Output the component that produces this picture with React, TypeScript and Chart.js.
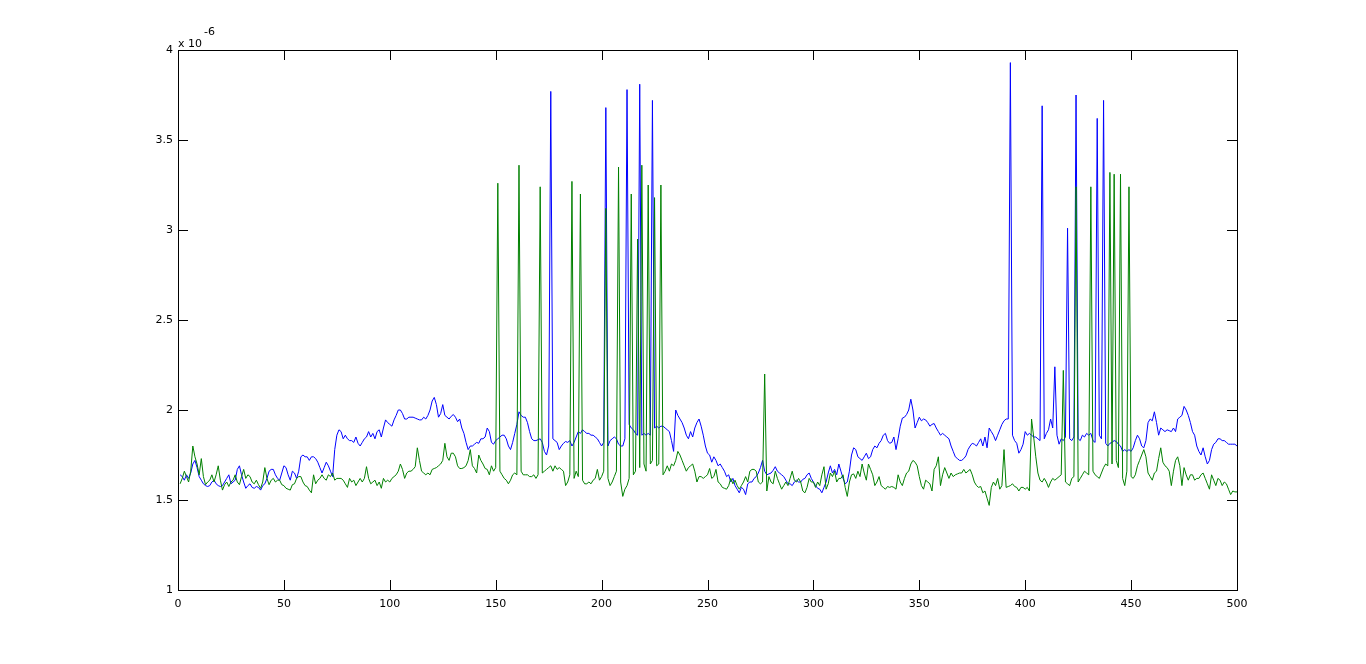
import React, { useEffect, useRef } from "react";
import { Chart, registerables } from "chart.js";

Chart.register(...registerables);

// Values are in units of 1e-6 (axis shows "x 10^-6")
const xStart = 1;

const blueSeries: number[] = [
  1.64,1.63,1.61,1.64,1.62,1.65,1.70,1.72,1.68,1.63,
  1.61,1.59,1.58,1.575,1.58,1.60,1.61,1.59,1.58,1.575,
  1.58,1.60,1.62,1.64,1.59,1.60,1.61,1.67,1.69,1.64,
  1.60,1.565,1.58,1.59,1.57,1.565,1.575,1.57,1.555,1.58,
  1.59,1.62,1.66,1.67,1.67,1.64,1.62,1.61,1.65,1.69,
  1.68,1.64,1.61,1.66,1.65,1.62,1.66,1.74,1.75,1.74,
  1.74,1.72,1.74,1.74,1.73,1.71,1.68,1.65,1.68,1.71,
  1.69,1.66,1.63,1.78,1.86,1.89,1.88,1.84,1.86,1.84,
  1.83,1.83,1.82,1.85,1.815,1.80,1.82,1.84,1.85,1.88,
  1.85,1.87,1.84,1.88,1.89,1.85,1.90,1.945,1.93,1.92,
  1.91,1.945,1.97,2.00,2.00,1.98,1.95,1.95,1.96,1.96,
  1.96,1.955,1.95,1.945,1.945,1.96,1.95,1.97,2.00,2.05,
  2.07,2.03,1.96,1.98,2.03,1.97,1.96,1.95,1.965,1.975,
  1.96,1.935,1.95,1.90,1.87,1.82,1.78,1.80,1.80,1.81,
  1.82,1.815,1.84,1.84,1.85,1.90,1.88,1.82,1.81,1.83,
  1.84,1.85,1.86,1.86,1.84,1.80,1.78,1.82,1.87,1.92,
  1.99,1.97,1.96,1.96,1.93,1.88,1.84,1.83,1.83,1.835,
  1.84,1.82,1.77,1.75,1.80,3.77,1.84,1.83,1.82,1.78,
  1.80,1.815,1.825,1.82,1.83,1.80,1.82,1.85,1.88,1.87,
  1.89,1.88,1.87,1.87,1.86,1.86,1.85,1.84,1.82,1.80,
  1.82,3.68,1.80,1.83,1.84,1.85,1.84,1.81,1.80,1.80,
  1.84,3.78,1.92,1.90,1.89,1.87,1.86,3.81,1.86,1.87,
  1.86,1.87,1.86,3.72,1.90,1.91,1.90,1.91,1.91,1.90,
  1.89,1.88,1.83,1.77,2.00,1.97,1.95,1.93,1.90,1.86,
  1.84,1.88,1.85,1.90,1.93,1.95,1.91,1.86,1.80,1.76,
  1.75,1.71,1.74,1.72,1.69,1.70,1.68,1.66,1.63,1.64,
  1.60,1.62,1.58,1.56,1.54,1.57,1.56,1.53,1.59,1.60,
  1.60,1.62,1.63,1.65,1.68,1.72,1.66,1.64,1.645,1.65,
  1.665,1.685,1.66,1.65,1.64,1.63,1.61,1.59,1.59,1.58,
  1.60,1.61,1.60,1.60,1.615,1.62,1.64,1.65,1.62,1.60,
  1.58,1.565,1.56,1.54,1.57,1.60,1.65,1.69,1.65,1.67,
  1.64,1.70,1.66,1.62,1.59,1.60,1.66,1.75,1.79,1.78,
  1.74,1.73,1.72,1.74,1.76,1.73,1.74,1.78,1.80,1.79,
  1.815,1.83,1.86,1.87,1.83,1.815,1.82,1.85,1.78,1.84,
  1.91,1.955,1.96,1.975,2.00,2.06,2.00,1.90,1.93,1.96,
  1.94,1.95,1.945,1.93,1.91,1.92,1.925,1.90,1.88,1.86,
  1.87,1.86,1.85,1.84,1.80,1.77,1.74,1.73,1.72,1.72,
  1.73,1.745,1.78,1.80,1.815,1.81,1.80,1.82,1.84,1.80,
  1.85,1.79,1.90,1.88,1.86,1.83,1.86,1.89,1.92,1.94,
  1.95,1.95,3.93,1.86,1.83,1.815,1.76,1.78,1.81,1.88,
  1.86,1.87,1.86,1.85,1.85,1.84,1.83,3.69,1.84,1.87,
  1.89,1.95,1.90,2.24,1.86,1.81,1.84,1.83,1.85,3.01,
  1.84,1.83,1.85,3.75,1.84,1.83,1.86,1.85,1.87,1.86,
  1.87,1.83,1.82,3.62,1.86,1.84,3.72,1.815,1.80,1.815,
  1.82,1.83,1.825,1.81,1.80,1.77,1.78,1.77,1.78,1.77,
  1.79,1.83,1.86,1.84,1.80,1.79,1.83,1.93,1.95,1.94,
  1.99,1.93,1.86,1.90,1.89,1.88,1.89,1.885,1.88,1.90,
  1.88,1.95,1.96,1.97,2.02,2.00,1.97,1.93,1.88,1.86,
  1.80,1.77,1.75,1.79,1.74,1.70,1.72,1.78,1.81,1.82,
  1.84,1.84,1.83,1.83,1.82,1.81,1.81,1.81,1.81,1.80,
];

const greenSeries: number[] = [
  1.59,1.62,1.66,1.63,1.60,1.66,1.80,1.74,1.70,1.64,
  1.73,1.63,1.585,1.60,1.61,1.64,1.60,1.64,1.69,1.61,
  1.555,1.585,1.60,1.575,1.60,1.61,1.64,1.60,1.585,1.63,
  1.67,1.62,1.64,1.63,1.60,1.59,1.61,1.585,1.565,1.60,
  1.68,1.62,1.585,1.61,1.62,1.60,1.61,1.61,1.585,1.58,
  1.565,1.56,1.555,1.585,1.59,1.62,1.63,1.63,1.60,1.58,
  1.575,1.555,1.54,1.64,1.59,1.61,1.62,1.64,1.62,1.61,
  1.64,1.63,1.65,1.61,1.62,1.62,1.62,1.61,1.59,1.57,
  1.62,1.60,1.61,1.58,1.60,1.62,1.60,1.62,1.685,1.62,
  1.59,1.60,1.61,1.58,1.60,1.565,1.62,1.60,1.61,1.60,
  1.62,1.63,1.64,1.66,1.70,1.67,1.62,1.65,1.66,1.66,
  1.67,1.685,1.79,1.72,1.66,1.65,1.64,1.65,1.64,1.67,
  1.675,1.68,1.69,1.70,1.72,1.815,1.74,1.72,1.76,1.76,
  1.74,1.69,1.675,1.675,1.68,1.69,1.72,1.78,1.69,1.675,
  1.65,1.75,1.72,1.70,1.675,1.67,1.64,1.69,1.66,1.68,
  3.26,1.66,1.64,1.62,1.61,1.59,1.61,1.64,1.65,1.64,
  3.36,1.66,1.64,1.64,1.64,1.63,1.63,1.64,1.62,1.64,
  3.24,1.65,1.66,1.67,1.68,1.69,1.66,1.69,1.67,1.68,
  1.67,1.66,1.58,1.60,1.64,3.27,1.62,1.66,1.63,3.20,
  1.61,1.59,1.59,1.60,1.59,1.61,1.62,1.67,1.61,1.63,
  1.66,3.12,1.62,1.58,1.60,1.63,1.66,3.35,1.60,1.52,
  1.56,1.58,1.62,3.20,1.64,1.66,2.95,1.68,3.36,1.70,
  1.66,3.25,1.70,1.72,3.18,1.69,1.70,3.25,1.64,1.66,
  1.69,1.66,1.70,1.69,1.72,1.77,1.75,1.72,1.69,1.66,
  1.68,1.69,1.70,1.66,1.60,1.63,1.63,1.62,1.63,1.64,
  1.675,1.62,1.63,1.67,1.60,1.59,1.57,1.565,1.56,1.58,
  1.62,1.59,1.61,1.58,1.56,1.58,1.60,1.63,1.60,1.66,
  1.67,1.67,1.66,1.60,1.59,1.60,2.20,1.55,1.63,1.60,
  1.59,1.66,1.62,1.59,1.56,1.58,1.60,1.58,1.62,1.66,
  1.61,1.60,1.62,1.60,1.55,1.54,1.57,1.62,1.60,1.60,
  1.57,1.60,1.58,1.64,1.685,1.56,1.59,1.65,1.63,1.66,
  1.60,1.62,1.62,1.64,1.57,1.52,1.60,1.64,1.645,1.62,
  1.66,1.63,1.70,1.65,1.61,1.70,1.67,1.64,1.58,1.60,
  1.63,1.58,1.57,1.56,1.575,1.57,1.575,1.57,1.56,1.64,
  1.60,1.58,1.62,1.65,1.66,1.70,1.72,1.71,1.69,1.63,
  1.58,1.56,1.61,1.60,1.59,1.55,1.67,1.69,1.74,1.58,
  1.64,1.68,1.65,1.62,1.65,1.63,1.64,1.645,1.65,1.65,
  1.67,1.65,1.66,1.67,1.64,1.60,1.58,1.57,1.575,1.54,
  1.55,1.51,1.47,1.57,1.60,1.58,1.62,1.56,1.58,1.78,
  1.57,1.575,1.58,1.59,1.575,1.57,1.55,1.57,1.57,1.56,
  1.57,1.55,1.95,1.85,1.74,1.65,1.61,1.60,1.62,1.60,
  1.57,1.60,1.62,1.61,1.62,1.63,1.64,2.22,1.60,1.59,
  1.58,1.62,1.63,3.24,1.60,1.62,1.64,1.66,1.65,1.64,
  3.24,1.66,1.64,1.63,1.62,1.65,1.68,1.70,1.69,3.32,
  1.70,3.31,1.72,1.68,3.31,1.62,1.58,1.66,3.24,1.63,
  1.62,1.64,1.69,1.72,1.75,1.78,1.74,1.65,1.63,1.61,
  1.65,1.66,1.73,1.79,1.71,1.69,1.68,1.66,1.58,1.66,
  1.72,1.74,1.69,1.58,1.68,1.64,1.61,1.64,1.64,1.61,
  1.62,1.62,1.64,1.65,1.62,1.59,1.56,1.64,1.61,1.58,
  1.62,1.61,1.58,1.60,1.59,1.56,1.53,1.55,1.545,1.545,
];

const yTickValues = [1, 1.5, 2, 2.5, 3, 3.5, 4];
const xTickStep = 50;
const exponentBase = "x 10";
const exponentPower = "-6";

const FONT = "DejaVu Sans";

const matlabFrame = {
  id: "matlabFrame",
  afterDraw(chart: any) {
    const { ctx, chartArea: a, scales } = chart;
    ctx.save();
    ctx.strokeStyle = "#000";
    ctx.lineWidth = 1;
    ctx.strokeRect(a.left + 0.5, a.top + 0.5, a.right - a.left, a.bottom - a.top);
    const L = 10;
    ctx.beginPath();
    scales.x.ticks.forEach((t: any) => {
      const px = Math.round(scales.x.getPixelForValue(t.value)) + 0.5;
      ctx.moveTo(px, a.bottom);
      ctx.lineTo(px, a.bottom - L);
      ctx.moveTo(px, a.top);
      ctx.lineTo(px, a.top + L);
    });
    scales.y.ticks.forEach((t: any) => {
      const py = Math.round(scales.y.getPixelForValue(t.value)) + 0.5;
      ctx.moveTo(a.left, py);
      ctx.lineTo(a.left + L, py);
      ctx.moveTo(a.right, py);
      ctx.lineTo(a.right - L, py);
    });
    ctx.stroke();
    ctx.fillStyle = "#000";
    ctx.textAlign = "left";
    ctx.textBaseline = "alphabetic";
    ctx.font = `11px "${FONT}"`;
    ctx.fillText(exponentBase, a.left, a.top - 3);
    ctx.fillText(exponentPower, a.left + 26, a.top - 15);
    ctx.restore();
  },
};

export default function App() {
  const ref = useRef<HTMLCanvasElement | null>(null);

  useEffect(() => {
    if (!ref.current) return;
    const blueData = blueSeries.map((v, i) => ({ x: xStart + i, y: v }));
    const greenData = greenSeries.map((v, i) => ({ x: xStart + i, y: v }));
    const chart = new Chart(ref.current, {
      type: "line",
      data: {
        datasets: [
          {
            label: "green",
            data: greenData,
            borderColor: "#008000",
            borderWidth: 1,
            pointRadius: 0,
            tension: 0,
            fill: false,
            order: 0,
          },
          {
            label: "blue",
            data: blueData,
            borderColor: "#0000ff",
            borderWidth: 1,
            pointRadius: 0,
            tension: 0,
            fill: false,
            order: 1,
          },
        ],
      },
      options: {
        animation: false,
        responsive: false,
        maintainAspectRatio: false,
        layout: { padding: { top: 50, right: 129, left: 0, bottom: 0 } },
        plugins: { legend: { display: false }, tooltip: { enabled: false } },
        scales: {
          x: {
            type: "linear",
            min: 0,
            max: 500,
            grid: { display: false, drawTicks: false },
            border: { display: false },
            ticks: {
              stepSize: xTickStep,
              color: "#000",
              padding: 8,
              maxRotation: 0,
              font: { family: FONT, size: 11 },
              callback: (v: any) => String(v),
            },
            afterFit: (s: any) => {
              s.height = 74;
            },
          },
          y: {
            type: "linear",
            min: yTickValues[0],
            max: yTickValues[yTickValues.length - 1],
            grid: { display: false, drawTicks: false },
            border: { display: false },
            afterBuildTicks: (s: any) => {
              s.ticks = yTickValues.map((v) => ({ value: v }));
            },
            ticks: {
              color: "#000",
              padding: 5,
              font: { family: FONT, size: 11 },
              callback: (v: any) => String(v),
            },
            afterFit: (s: any) => {
              s.width = 178;
            },
          },
        },
      },
      plugins: [matlabFrame],
    });
    return () => chart.destroy();
  }, []);

  return (
    <div style={{ position: "fixed", left: 0, top: 0, width: 1366, height: 664, background: "#fff" }}>
      <canvas ref={ref} width={1366} height={664} style={{ display: "block" }} />
    </div>
  );
}
